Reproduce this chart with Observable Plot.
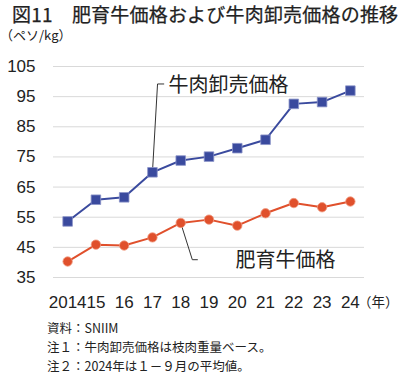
<!DOCTYPE html>
<html><head><meta charset="utf-8">
<script src="https://cdn.jsdelivr.net/npm/d3@7"></script>
<script src="https://cdn.jsdelivr.net/npm/@observablehq/plot@0.6"></script>
<style>
body{margin:0;background:#fff;width:400px;height:374px;position:relative;overflow:hidden;font-family:"Liberation Sans","Noto Sans CJK JP",sans-serif;color:#222}
#title{position:absolute;left:12px;top:3px;font-size:19px;line-height:22px;font-weight:normal;-webkit-text-stroke:0.25px #222;font-family:"Noto Sans CJK JP",sans-serif;white-space:pre;letter-spacing:0.2px}
#unit{position:absolute;left:0;top:28px;font-size:13px;line-height:14px;font-family:"Noto Sans CJK JP",sans-serif}
#chart{position:absolute;left:0;top:44px}
#nen{position:absolute;left:358px;top:291px;font-size:13.5px;font-family:"Noto Sans CJK JP",sans-serif;white-space:nowrap}
#notes{position:absolute;left:47px;top:318px;font-size:12.5px;line-height:19px;font-family:"Noto Sans CJK JP",sans-serif}
</style></head>
<body>
<div id="title">図11　肥育牛価格および牛肉卸売価格の推移</div>
<div id="unit">（ペソ/kg）</div>
<div id="chart"></div>
<div id="nen">（年）</div>
<div id="notes">資料：SNIIM<br>注１：牛肉卸売価格は枝肉重量ベース。<br>注２：2024年は１－９月の平均値。</div>
<script>
const years = [2014,2015,2016,2017,2018,2019,2020,2021,2022,2023,2024];
const yearLabels = ["2014","15","16","17","18","19","20","21","22","23","24"];
const wholesale = [53.6,60.8,61.6,69.9,73.8,75.1,77.9,80.7,92.6,93.2,97.0];
const cattle = [40.3,45.9,45.6,48.3,53.1,54.2,52.2,56.3,59.7,58.3,60.2];
const yTicks = [35,45,55,65,75,85,95,105];
const seriesNames = ["牛肉卸売価格","肥育牛価格"];

const blue = "#3a4a9e", red = "#e0502c";
const wData = years.map((x,i)=>({x, y: wholesale[i]}));
const cData = years.map((x,i)=>({x, y: cattle[i]}));

// leader lines: start at a data point, bend toward label
const wLeader = [{x:years[3],y:wholesale[3]},{x:2017.18,y:99.2},{x:2017.4,y:99.2}];
const cLeader = [{x:years[4],y:cattle[4]},{x:2018.41,y:40.9},{x:2018.59,y:40.9}];

const chart = Plot.plot({
  width: 400, height: 274,
  marginTop: 22, marginBottom: 41, marginLeft: 53, marginRight: 36,
  style: {fontFamily: '"Liberation Sans", Arial, sans-serif', background: "#fff", color: "#222"},
  x: {domain: [2013.5, 2024.5]},
  y: {domain: [35, 105]},
  marks: [
    Plot.gridY(yTicks, {stroke: "#d9d9d9", strokeOpacity: 1, strokeWidth: 1}),
    Plot.axisY(yTicks, {tickSize: 0, tickPadding: 18, fontSize: 17, label: null}),
    Plot.axisX(years, {tickSize: 0, tickPadding: 18, fontSize: 17, label: null, tickFormat: (d,i)=>yearLabels[i]}),
    Plot.line(wLeader, {x:"x", y:"y", stroke:"#333", strokeWidth: 1}),
    Plot.line(cLeader, {x:"x", y:"y", stroke:"#333", strokeWidth: 1}),
    Plot.line(wData, {x:"x", y:"y", stroke: blue, strokeWidth: 2}),
    Plot.dot(wData, {x:"x", y:"y", symbol: "square", r: 5.4, fill: blue, stroke: "#8a93c8", strokeWidth: 0.8}),
    Plot.line(cData, {x:"x", y:"y", stroke: red, strokeWidth: 2}),
    Plot.dot(cData, {x:"x", y:"y", r: 4.7, fill: red, stroke: "#f09a80", strokeWidth: 0.8}),
    Plot.text([seriesNames[0]], {x: 2017.57, y: 98.7, textAnchor: "start", fontSize: 20, fontFamily: '"Noto Sans CJK JP", sans-serif', fill: "#222"}),
    Plot.text([seriesNames[1]], {x: 2019.94, y: 40.6, textAnchor: "start", fontSize: 20, fontFamily: '"Noto Sans CJK JP", sans-serif', fill: "#222"})
  ]
});
document.getElementById("chart").appendChild(chart);
</script>
</body></html>
